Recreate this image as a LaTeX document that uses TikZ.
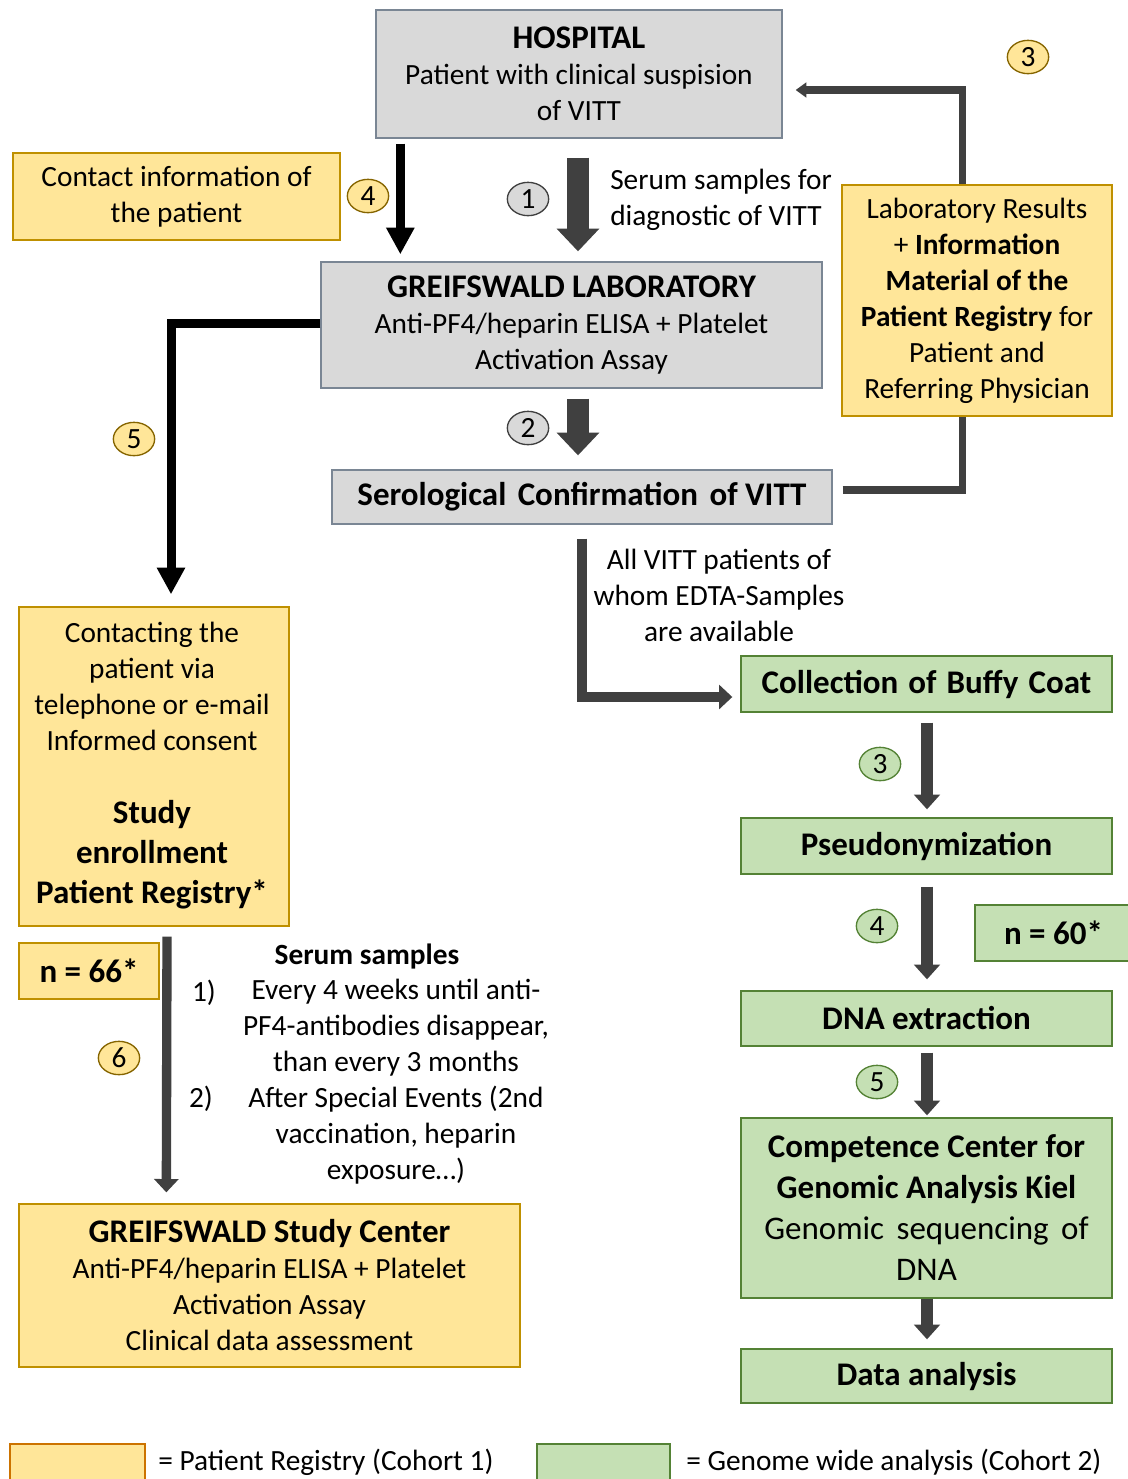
\documentclass[tikz,border=0pt]{standalone}
\usepackage{fontspec}
\setmainfont{Carlito}
\usetikzlibrary{arrows.meta,calc,shapes.geometric,backgrounds}
\definecolor{boxgray}{HTML}{D9D9D9}
\definecolor{graydraw}{HTML}{7A8694}
\definecolor{boxyel}{HTML}{FFE699}
\definecolor{yeldraw}{HTML}{BF9000}
\definecolor{boxgrn}{HTML}{C5E0B4}
\definecolor{grndraw}{HTML}{548235}
\definecolor{darkg}{HTML}{404040}
\newcommand\fnorm{\fontsize{22}{27}\selectfont}
\newcommand\fbig{\fontsize{24.75}{30}\selectfont\bfseries}
\newcommand\fbigc{\fontsize{24.75}{30.75}\selectfont\bfseries}
\tikzset{
  basebox/.style={draw, line width=1pt, inner sep=0pt, align=center, font=\fnorm},
  gbox/.style={basebox, fill=boxgray, draw=graydraw},
  ybox/.style={basebox, fill=boxyel, draw=yeldraw},
  nbox/.style={basebox, fill=boxgrn, draw=grndraw},
  rect/.style n args={4}{minimum width={(#3-#1)*0.75pt}, minimum height={(#4-#2)*0.75pt},
     at={({(#1+#3)/2},{(#2+#4)/2})}},
  txt/.style={inner sep=0pt, align=center, font=\fnorm},
  num/.style={ellipse, line width=1pt, minimum width=31pt, minimum height=25pt, inner sep=0pt, font=\fnorm},
  ynum/.style={num, draw=yeldraw!70!black, fill=boxyel},
  gnum/.style={num, draw=darkg, fill=boxgray},
  nnum/.style={num, draw=grndraw, fill=boxgrn},
  blkarr/.style={line width=6.75pt, black, -{Triangle[width=20pt,length=20pt]}},
  bigarr/.style={line width=16pt, darkg, -{Triangle[width=31pt,length=17pt]}},
  garr/.style={line width=9pt, darkg, -{Triangle[width=19pt,length=11pt]}},
  looparr/.style={line width=5.5pt, darkg, -{Triangle[width=11pt,length=8pt]}},
  midarr/.style={line width=7pt, darkg, -{Triangle[width=18pt,length=10pt]}},
}
\begin{document}
\begin{tikzpicture}[x=0.75pt,y=-0.75pt]
\useasboundingbox (0,0) rectangle (1128,1479);

% boxes
\node[gbox, rect={376}{10}{782}{138}] (hosp) {{\fbig HOSPITAL}\\Patient with clinical suspision\\of VITT};
\node[ybox, rect={13}{153}{340}{240}] (contact) {Contact information of\\the patient};
\node[gbox, rect={321}{262}{822}{388}] (lab) {{\fbig GREIFSWALD LABORATORY}\\Anti-PF4/heparin ELISA + Platelet\\Activation Assay};
\node[ybox, rect={842}{185}{1112}{416}] (res) {Laboratory Results\\+ \textbf{Information}\\\textbf{Material of the}\\\textbf{Patient Registry} for\\Patient and\\Referring Physician};
\node[gbox, rect={332}{470}{832}{524}] (sero) {{\fbig Serological\hspace{0.12em} Confirmation\hspace{0.12em} of VITT}};
\node[nbox, rect={741}{656}{1112}{712}] (coll) {{\fbig Collection\hspace{0.08em} of\hspace{0.08em} Buffy\hspace{0.08em} Coat}};
\node[nbox, rect={741}{818}{1112}{874}] (pseudo) {{\fbig Pseudonymization}};
\node[nbox, rect={975}{905}{1132}{961}] (n60) {{\fbig n = 60*}};
\node[nbox, rect={741}{991}{1112}{1046}] (dna) {{\fbig DNA extraction}};
\node[nbox, rect={741}{1118}{1112}{1298}, font=\fbigc] (comp) {Competence Center for\\Genomic Analysis Kiel\\{\mdseries Genomic\hspace{0.15em} sequencing\hspace{0.15em} of}\\{\mdseries DNA}};
\node[nbox, rect={741}{1349}{1112}{1403}] (data) {{\fbig Data analysis}};
\node[ybox, rect={19}{607}{289}{926}] (ctbox) {};
\node[txt] (ct1) at (152,686) {Contacting the\\patient via\\telephone or e-mail\\Informed consent};
\node[txt, font=\fbig] (ct2) at (152,855) {Study\\enrollment\\Patient Registry*};
\node[ybox, rect={19}{943}{159}{999}] (n66) {{\fbig n = 66*}};
\node[ybox, rect={19}{1204}{520}{1367}] (study) {{\fbig GREIFSWALD Study Center}\\Anti-PF4/heparin ELISA + Platelet\\Activation Assay\\Clinical data assessment};

% free texts
\node[txt, align=left, anchor=west] (sdt) at (610,200) {Serum samples for\\diagnostic of VITT};
\node[txt] (edta) at (719,595) {All VITT patients of\\whom EDTA-Samples\\are available};
\node[txt] (sst) at (367,957) {\textbf{Serum samples}};
\node[txt] (sl1) at (396,1028) {Every 4 weeks until anti-\\PF4-antibodies disappear,\\than every 3 months};
\node[txt] (sl2) at (396,1135) {After Special Events (2nd\\vaccination, heparin\\exposure…)};
\node[txt] (n1) at (204,993) {1)};
\node[txt] (n2) at (201,1099) {2)};

% number labels
\node[gnum] (c1) at (528,199) {1};
\node[gnum] (c2) at (528,428) {2};
\node[ynum] (y3) at (1028,57) {3};
\node[ynum] (y4) at (368,196) {4};
\node[ynum] (y5) at (134,439) {5};
\node[ynum] (y6) at (119,1058) {6};
\node[nnum] (g3) at (880,764) {3};
\node[nnum] (g4) at (877,926) {4};
\node[nnum] (g5) at (877,1082) {5};

% connectors
\begin{pgfonlayer}{background}
\fill[white] (0,0) rectangle (1128,1479);
\draw[looparr] ($(sero.east)+(10,-7)$) -- ++(120,0) |- ($(hosp.east)+(13,16)$);
\end{pgfonlayer}
\draw[blkarr] ($(hosp.south west)+(25,5)$) -- ($(lab.north west)+(80,-7)$);
\draw[bigarr] ($(hosp.south)+(-1,19)$) -- ($(lab.north)+(6.5,-10)$);
\draw[bigarr] ($(lab.south)+(6.5,10)$) -- ($(sero.north)+(-4,-14)$);
\draw[blkarr] ($(lab.west)+(0,-2)$) -| ($(ctbox.north)+(17,-12)$);
\draw[midarr] ($(sero.south)+(0,14)$) |- ($(coll.west)+(-8,13)$);
\draw[garr] ($(coll.south)+(0.5,10)$) -- ($(pseudo.north)+(0.5,-8)$);
\draw[garr] ($(pseudo.south)+(0.5,12)$) -- ($(dna.north)+(0.5,-11)$);
\draw[garr] ($(dna.south)+(0.5,6)$) -- ($(comp.north)+(0.5,-2)$);
\draw[garr] ($(comp.south)+(0.5,0)$) -- ($(data.north)+(0.5,-9)$);
\draw[midarr] ($(ctbox.south)+(13,10)$) -- ($(study.north west)+(148,-11)$);

% legend
\node[ybox, draw=yeldraw!80!red, rect={10}{1444}{145}{1490}] (leg1) {};
\node[txt, anchor=west] (leg1t) at (158,1462) {= Patient Registry (Cohort 1)};
\node[nbox, rect={537}{1444}{670}{1490}] (leg2) {};
\node[txt, anchor=west] (leg2t) at (686,1462) {= Genome wide analysis (Cohort 2)};
\end{tikzpicture}
\end{document}
